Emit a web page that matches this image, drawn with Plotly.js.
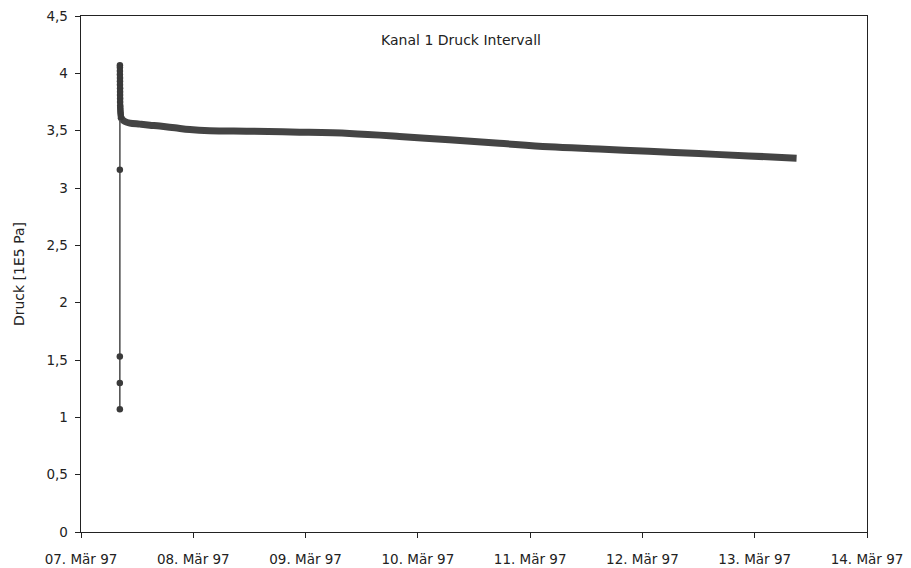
<!DOCTYPE html>
<html>
<head>
<meta charset="utf-8">
<script src="https://cdn.plot.ly/plotly-3.0.1.min.js"></script>
<style>html,body{margin:0;padding:0;background:#fff;}#chart{width:911px;height:568px;}</style>
</head>
<body>
<div id="chart"></div>
<script>
// Pressure rise (spike) right after start
const spikeTime = [
  "1997-03-07 08:18", "1997-03-07 08:18", "1997-03-07 08:18", "1997-03-07 08:18",
  "1997-03-07 08:19", "1997-03-07 08:19", "1997-03-07 08:19", "1997-03-07 08:19",
  "1997-03-07 08:20", "1997-03-07 08:20", "1997-03-07 08:20", "1997-03-07 08:21",
  "1997-03-07 08:21", "1997-03-07 08:21", "1997-03-07 08:22", "1997-03-07 08:22",
  "1997-03-07 08:23", "1997-03-07 08:24", "1997-03-07 08:25", "1997-03-07 08:27",
  "1997-03-07 08:29", "1997-03-07 08:32"
];
const spikeValue = [
  1.07, 1.30, 1.53, 3.16,
  4.07, 4.05, 4.02, 3.99,
  3.96, 3.93, 3.90, 3.87,
  3.84, 3.81, 3.78, 3.75,
  3.72, 3.70, 3.68, 3.66,
  3.64, 3.62
];

// Slow pressure decay afterwards
const curveTime = [
  "1997-03-07 08:32", "1997-03-07 08:45", "1997-03-07 09:23", "1997-03-07 10:27",
  "1997-03-07 12:35", "1997-03-07 14:43", "1997-03-07 16:50", "1997-03-07 20:04",
  "1997-03-07 23:15", "1997-03-08 03:30", "1997-03-08 12:03", "1997-03-08 22:43",
  "1997-03-09 09:23", "1997-03-09 20:04", "1997-03-10 06:43", "1997-03-10 17:23",
  "1997-03-11 04:03", "1997-03-11 14:43", "1997-03-12 01:23", "1997-03-12 12:03",
  "1997-03-12 22:43", "1997-03-13 08:57"
];
const curveValue = [
  3.62, 3.60, 3.58, 3.566,
  3.557, 3.548, 3.540, 3.525,
  3.510, 3.500, 3.495, 3.487,
  3.475, 3.450, 3.420, 3.390,
  3.360, 3.340, 3.320, 3.300,
  3.280, 3.260
];

const xTickVals = ["1997-03-07", "1997-03-08", "1997-03-09", "1997-03-10", "1997-03-11", "1997-03-12", "1997-03-13", "1997-03-14"];
const xTickText = ["07. Mär 97", "08. Mär 97", "09. Mär 97", "10. Mär 97", "11. Mär 97", "12. Mär 97", "13. Mär 97", "14. Mär 97"];
const yTickVals = [0, 0.5, 1, 1.5, 2, 2.5, 3, 3.5, 4, 4.5];
const yTickText = ["0", "0,5", "1", "1,5", "2", "2,5", "3", "3,5", "4", "4,5"];

const FONT = "DejaVu Sans, Liberation Sans, Arial, sans-serif";

const traces = [
  {
    x: curveTime, y: curveValue, type: "scatter", mode: "lines",
    line: {color: "#444444", width: 7, shape: "spline"},
    hoverinfo: "x+y", showlegend: false
  },
  {
    x: spikeTime, y: spikeValue, type: "scatter", mode: "lines+markers",
    line: {color: "#555555", width: 1.6},
    marker: {color: "#3a3a3a", size: 6.5, symbol: "circle"},
    hoverinfo: "x+y", showlegend: false
  }
];

const layout = {
  width: 911, height: 568,
  margin: {l: 81, r: 44, t: 16, b: 36, pad: 0},
  paper_bgcolor: "#ffffff", plot_bgcolor: "#ffffff",
  font: {family: FONT, size: 13, color: "#222222"},
  separators: ",.",
  title: {
    text: "Kanal 1 Druck Intervall",
    x: 461 / 911, xanchor: "center",
    y: 1 - 40 / 568, yanchor: "middle",
    font: {family: FONT, size: 14, color: "#222222"}
  },
  xaxis: {
    type: "date",
    range: ["1997-03-07", "1997-03-14"],
    tickmode: "array", tickvals: xTickVals, ticktext: xTickText,
    ticks: "outside", ticklen: 5, tickcolor: "#222", tickwidth: 1,
    ticklabelstandoff: 9,
    showgrid: false, zeroline: false,
    showline: true, linecolor: "#222", linewidth: 1.4, mirror: true,
    tickfont: {family: FONT, size: 13.5, color: "#222"}
  },
  yaxis: {
    range: [0, 4.5],
    tickmode: "array", tickvals: yTickVals, ticktext: yTickText,
    ticks: "outside", ticklen: 5, tickcolor: "#222", tickwidth: 1,
    ticklabelstandoff: 4,
    showgrid: false, zeroline: false,
    showline: true, linecolor: "#222", linewidth: 1.4, mirror: true,
    tickfont: {family: FONT, size: 13.5, color: "#222"},
    title: {text: "Druck [1E5 Pa]", standoff: 18, font: {family: FONT, size: 14, color: "#222"}}
  }
};

Plotly.newPlot("chart", traces, layout, {displayModeBar: false, staticPlot: true});
</script>
</body>
</html>
